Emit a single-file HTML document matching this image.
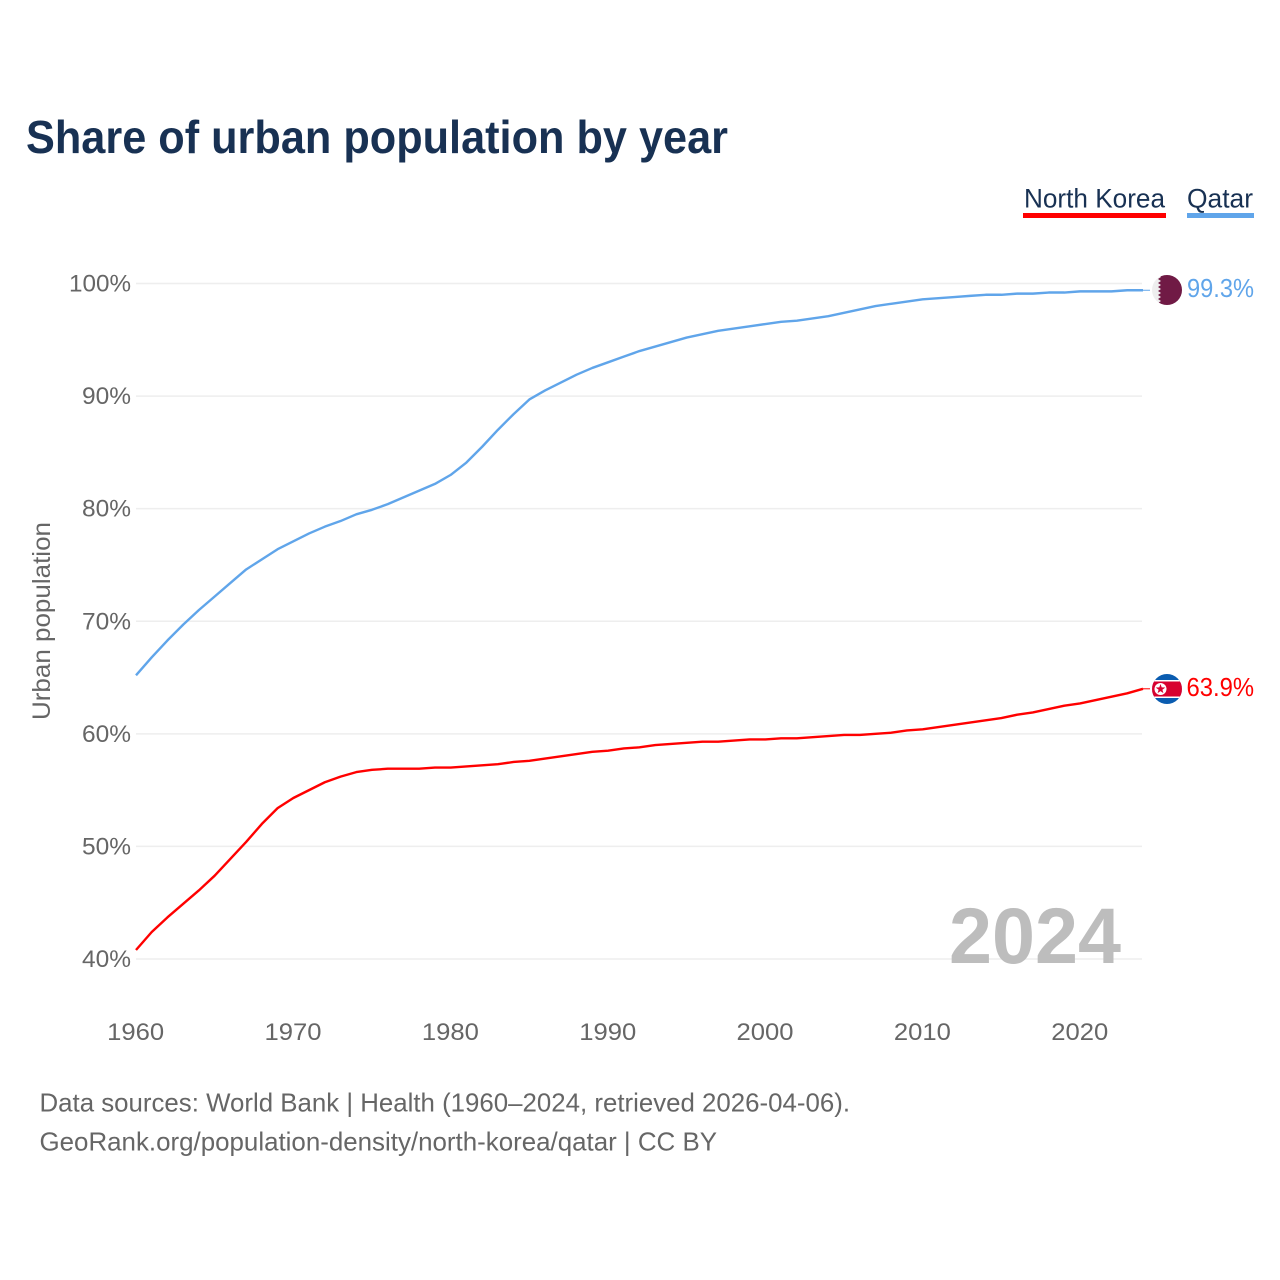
<!DOCTYPE html>
<html lang="en">
<head>
<meta charset="utf-8">
<title>Share of urban population by year</title>
<style>
html,body{margin:0;padding:0;background:#fff;width:1280px;height:1280px;overflow:hidden}
svg{display:block}
text{font-family:"Liberation Sans",sans-serif}
</style>
</head>
<body>
<svg id="chart" width="1280" height="1280" viewBox="0 0 1280 1280" xmlns="http://www.w3.org/2000/svg">
  <defs>
    <clipPath id="flag-clip-qa"><circle cx="1167" cy="290" r="15"></circle></clipPath>
    <clipPath id="flag-clip-kp"><circle cx="1167" cy="689" r="15"></circle></clipPath>
  </defs>
  <text x="26" y="153" font-size="46" font-weight="700" fill="#183153" textLength="702" lengthAdjust="spacingAndGlyphs">Share of urban population by year</text>

  <g>
    <g>
      <text x="1024" y="207.5" font-size="27" fill="#183153" textLength="141" lengthAdjust="spacingAndGlyphs">North Korea</text>
      <rect x="1023" y="213" width="143" height="5" fill="#ff0000"></rect>
    </g>
    <g>
      <text x="1187" y="207.5" font-size="27" fill="#183153" textLength="66" lengthAdjust="spacingAndGlyphs">Qatar</text>
      <rect x="1187" y="213" width="67" height="5" fill="#60a5ea"></rect>
    </g>
  </g>

  <g id="grid"></g>
  <g id="y-axis"></g>
  <g id="x-axis"></g>
  <text transform="translate(50,621) rotate(-90)" text-anchor="middle" font-size="25" fill="#666666" textLength="198" lengthAdjust="spacingAndGlyphs">Urban population</text>

  <text x="949" y="963" font-size="79" font-weight="700" fill="#bdbdbd" textLength="172" lengthAdjust="spacingAndGlyphs">2024</text>

  <g id="series"></g>

  <g>
    <g clip-path="url(#flag-clip-qa)">
      <rect x="1152" y="275" width="30" height="30" fill="#eeeeee"></rect>
      <polygon fill="#701a45" points="1182,275 1158,275 1161,277 1158,279 1161,281 1158,283 1161,285 1158,287 1161,289 1158,291 1161,293 1158,295 1161,297 1158,299 1161,301 1158,303 1161,305 1182,305"></polygon>
    </g>
  </g>
  <g>
    <g clip-path="url(#flag-clip-kp)">
      <rect x="1152" y="674" width="30" height="30" fill="#0a5cb0"></rect>
      <rect x="1152" y="680" width="30" height="18" fill="#ffffff"></rect>
      <rect x="1152" y="681.5" width="30" height="15" fill="#d8012f"></rect>
      <circle cx="1160.5" cy="689" r="6" fill="#ffffff"></circle>
      <polygon fill="#d8012f" points="1160.5,684 1161.7,687.4 1165.3,687.5 1162.4,689.7 1163.4,693.1 1160.5,691.1 1157.6,693.1 1158.6,689.7 1155.7,687.5 1159.3,687.4"></polygon>
    </g>
  </g>

  <g id="end-labels"></g>

  <text x="39.5" y="1111.5" font-size="26" fill="#666666" textLength="810.5" lengthAdjust="spacingAndGlyphs">Data sources: World Bank | Health (1960–2024, retrieved 2026-04-06).</text>
  <text x="39.5" y="1150.5" font-size="26" fill="#666666" textLength="677.5" lengthAdjust="spacingAndGlyphs">GeoRank.org/population-density/north-korea/qatar | CC BY</text>
</svg>

<script>
const years = [1960,1961,1962,1963,1964,1965,1966,1967,1968,1969,1970,1971,1972,1973,1974,1975,1976,1977,1978,1979,1980,1981,1982,1983,1984,1985,1986,1987,1988,1989,1990,1991,1992,1993,1994,1995,1996,1997,1998,1999,2000,2001,2002,2003,2004,2005,2006,2007,2008,2009,2010,2011,2012,2013,2014,2015,2016,2017,2018,2019,2020,2021,2022,2023,2024];
const qatarValues = [65.2,66.8,68.3,69.7,71.0,72.2,73.4,74.6,75.5,76.4,77.1,77.8,78.4,78.9,79.5,79.9,80.4,81.0,81.6,82.2,83.0,84.1,85.5,87.0,88.4,89.7,90.5,91.2,91.9,92.5,93.0,93.5,94.0,94.4,94.8,95.2,95.5,95.8,96.0,96.2,96.4,96.6,96.7,96.9,97.1,97.4,97.7,98.0,98.2,98.4,98.6,98.7,98.8,98.9,99.0,99.0,99.1,99.1,99.2,99.2,99.3,99.3,99.3,99.4,99.4];
const northKoreaValues = [40.8,42.4,43.7,44.9,46.1,47.4,48.9,50.4,52.0,53.4,54.3,55.0,55.7,56.2,56.6,56.8,56.9,56.9,56.9,57.0,57.0,57.1,57.2,57.3,57.5,57.6,57.8,58.0,58.2,58.4,58.5,58.7,58.8,59.0,59.1,59.2,59.3,59.3,59.4,59.5,59.5,59.6,59.6,59.7,59.8,59.9,59.9,60.0,60.1,60.3,60.4,60.6,60.8,61.0,61.2,61.4,61.7,61.9,62.2,62.5,62.7,63.0,63.3,63.6,64.0];
const yTicks = [40,50,60,70,80,90,100];
const xTicks = [1960,1970,1980,1990,2000,2010,2020];
const qatarLabel = "99.3%";
const northKoreaLabel = "63.9%";

const NS = "http://www.w3.org/2000/svg";
function xScale(year){ return 136 + (year - 1960) * (1143 - 136) / 64; }
function yScale(value){ return 959 - (value - 40) * (959 - 283.5) / 60; }
function make(tag, attrs, parent){
  const el = document.createElementNS(NS, tag);
  for (const k in attrs) el.setAttribute(k, attrs[k]);
  parent.appendChild(el);
  return el;
}

const grid = document.getElementById("grid");
const yAxis = document.getElementById("y-axis");
const xAxis = document.getElementById("x-axis");
const series = document.getElementById("series");
const endLabels = document.getElementById("end-labels");

yTicks.forEach(function(t){
  const line = make("line", {x1:136, x2:1142, y1:yScale(t), y2:yScale(t), stroke:"#eeeeee", "stroke-width":1.5}, grid);
  
  
  const label = make("text", {x:131, y:yScale(t)+8, "text-anchor":"end", "font-size":24.5, fill:"#666666", textLength:(t===100?62:49), lengthAdjust:"spacingAndGlyphs"}, yAxis);
  label.textContent = t + "%";
  
  
});

xTicks.forEach(function(t){
  const label = make("text", {x:xScale(t)-0.3, y:1040, "text-anchor":"middle", "font-size":24.5, fill:"#666666", textLength:57, lengthAdjust:"spacingAndGlyphs"}, xAxis);
  label.textContent = String(t);
  
  
});

function points(values){
  return values.map(function(v, i){ return xScale(years[i]).toFixed(2) + "," + yScale(v).toFixed(2); }).join(" ");
}

const qatarLine = make("polyline", {points:points(qatarValues), fill:"none", stroke:"#60a5ea", "stroke-width":2.4, "stroke-linejoin":"round"}, series);



const koreaLine = make("polyline", {points:points(northKoreaValues), fill:"none", stroke:"#ff0000", "stroke-width":2.4, "stroke-linejoin":"round"}, series);



const qatarEndY = yScale(qatarValues[qatarValues.length - 1]);
const koreaEndY = yScale(northKoreaValues[northKoreaValues.length - 1]);

const qatarLeader = make("line", {x1:1143, x2:1150, y1:qatarEndY, y2:qatarEndY, stroke:"#60a5ea", "stroke-width":1}, series);



const koreaLeader = make("line", {x1:1143, x2:1150, y1:koreaEndY, y2:koreaEndY, stroke:"#ff0000", "stroke-width":1}, series);



const qatarEnd = make("text", {x:1187, y:qatarEndY+6.5, "font-size":26, fill:"#60a5ea", textLength:67, lengthAdjust:"spacingAndGlyphs"}, endLabels);
qatarEnd.textContent = qatarLabel;



const koreaEnd = make("text", {x:1186.5, y:koreaEndY+7, "font-size":26, fill:"#ff0000", textLength:67.5, lengthAdjust:"spacingAndGlyphs"}, endLabels);
koreaEnd.textContent = northKoreaLabel;


</script>
</body>
</html>
